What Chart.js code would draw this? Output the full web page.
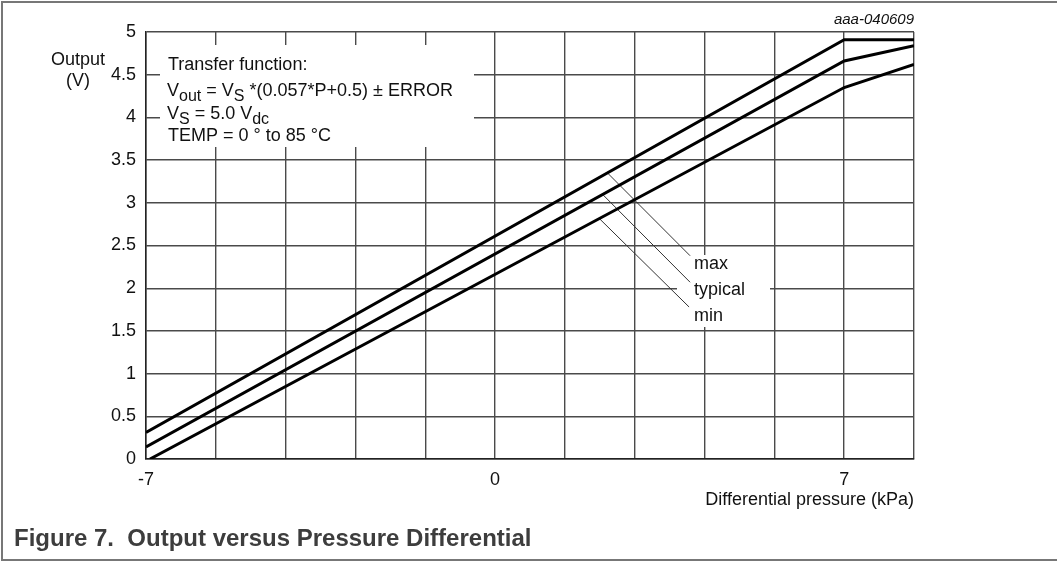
<html>
<head>
  <meta charset="UTF-8">
  <script src="https://cdn.jsdelivr.net/npm/chart.js"></script>
  <title>Output versus Pressure Differential</title>
  <style>
    body { margin: 0; background: #fff; }
  </style>
</head>
<body>
<canvas id="chart" width="1057" height="562"></canvas>
<script>
// pressure (kPa) / output (V)
const maxP = [-7, 7, 8.4];
const maxV = [0.31, 4.91, 4.91];
const typP = [-7, 7, 8.4];
const typV = [0.14, 4.66, 4.84];
const minP = [-6.92, 7, 8.4];
const minV = [0, 4.35, 4.62];

// leader lines from curves to the max / typical / min labels
const maxLeadP = [2.27, 3.91];
const maxLeadV = [3.34, 2.38];
const typLeadP = [2.17, 3.91];
const typLeadV = [3.09, 2.07];
const minLeadP = [2.1, 3.89];
const minLeadV = [2.81, 1.78];

const xGrid = [-7, -5.6, -4.2, -2.8, -1.4, 0, 1.4, 2.8, 4.2, 5.6, 7, 8.4];
const xTickLabels = [-7, 0, 7];

const FONT = '"Liberation Sans", Arial, sans-serif';

function pts(xs, ys) {
    return xs.map((x, i) => ({x: x, y: ys[i]}));
}

function curve(xs, ys) {
    return {data: pts(xs, ys), borderColor: '#000', borderWidth: 3, showLine: true,
            pointRadius: 0, tension: 0, borderJoinStyle: 'miter'};
}
function leader(xs, ys) {
    return {data: pts(xs, ys), borderColor: '#333', borderWidth: 1, showLine: true,
            pointRadius: 0, tension: 0};
}

function runs(ctx, x, y, parts) {
    parts.forEach(p => {
        const sub = p[1];
        ctx.font = (sub ? '16px ' : '18px ') + FONT;
        ctx.fillText(p[0], x, sub ? y + 5 : y);
        x += ctx.measureText(p[0]).width;
    });
}

const decor = {
    id: 'decor',
    beforeDatasetsDraw(chart) {
        const ctx = chart.ctx;
        ctx.save();
        ctx.fillStyle = '#fff';
        ctx.fillRect(160, 45, 314, 102);
        ctx.fillRect(677, 255, 93, 72);
        ctx.restore();
    },
    afterDraw(chart) {
        const ctx = chart.ctx;
        ctx.save();
        ctx.fillStyle = '#111';
        ctx.textBaseline = 'alphabetic';
        ctx.textAlign = 'left';
        runs(ctx, 168, 70, [['Transfer function:']]);
        runs(ctx, 167, 96, [['V'], ['out', 1], [' = V'], ['S', 1], [' *(0.057*P+0.5) \u00b1 ERROR']]);
        runs(ctx, 167, 119, [['V'], ['S', 1], [' = 5.0 V'], ['dc', 1]]);
        runs(ctx, 168, 141, [['TEMP = 0 \u00b0 to 85 \u00b0C']]);

        ctx.font = '18px ' + FONT;
        ctx.fillText('max', 694, 269);
        ctx.fillText('typical', 694, 295);
        ctx.fillText('min', 694, 321);

        ctx.textAlign = 'center';
        ctx.fillText('Output', 78, 65);
        ctx.fillText('(V)', 78, 86);

        ctx.textAlign = 'right';
        ctx.fillText('Differential pressure (kPa)', 914, 505);
        ctx.font = 'italic 15px ' + FONT;
        ctx.fillText('aaa-040609', 914, 24);

        ctx.textAlign = 'left';
        ctx.fillStyle = '#3d3d3d';
        ctx.font = 'bold 24px ' + FONT;
        ctx.fillText('Figure 7.  Output versus Pressure Differential', 14, 546);

        ctx.strokeStyle = '#777';
        ctx.lineWidth = 2;
        ctx.beginPath();
        ctx.moveTo(1057, 2);
        ctx.lineTo(2, 2);
        ctx.lineTo(2, 560);
        ctx.lineTo(1057, 560);
        ctx.stroke();
        ctx.restore();
    }
};

new Chart(document.getElementById('chart').getContext('2d'), {
    type: 'scatter',
    data: {
        datasets: [
            curve(maxP, maxV), curve(typP, typV), curve(minP, minV),
            leader(maxLeadP, maxLeadV), leader(typLeadP, typLeadV), leader(minLeadP, minLeadV)
        ]
    },
    options: {
        responsive: false,
        animation: false,
        devicePixelRatio: 1,
        layout: {padding: {left: 0, top: 32, right: 143, bottom: 0}},
        plugins: {legend: {display: false}, tooltip: {enabled: false}},
        scales: {
            x: {
                type: 'linear', min: -7, max: 8.4,
                afterBuildTicks: s => { s.ticks = xGrid.map(v => ({value: v})); },
                afterFit: s => { s.height = 103; },
                grid: {color: '#4a4a4a', lineWidth: 1.4, drawTicks: false},
                border: {color: '#222', width: 1.5},
                ticks: {
                    color: '#111', font: {size: 18, family: FONT}, padding: 10,
                    maxRotation: 0, autoSkip: false,
                    callback: v => xTickLabels.includes(v) ? String(v) : ''
                }
            },
            y: {
                min: 0, max: 5,
                afterFit: s => { s.width = 146; },
                grid: {color: '#4a4a4a', lineWidth: 1.4, drawTicks: false},
                border: {color: '#222', width: 1.5},
                ticks: {
                    stepSize: 0.5, color: '#111', font: {size: 18, family: FONT}, padding: 10,
                    callback: v => String(Math.round(v * 10) / 10)
                }
            }
        }
    },
    plugins: [decor]
});
</script>
</body>
</html>
